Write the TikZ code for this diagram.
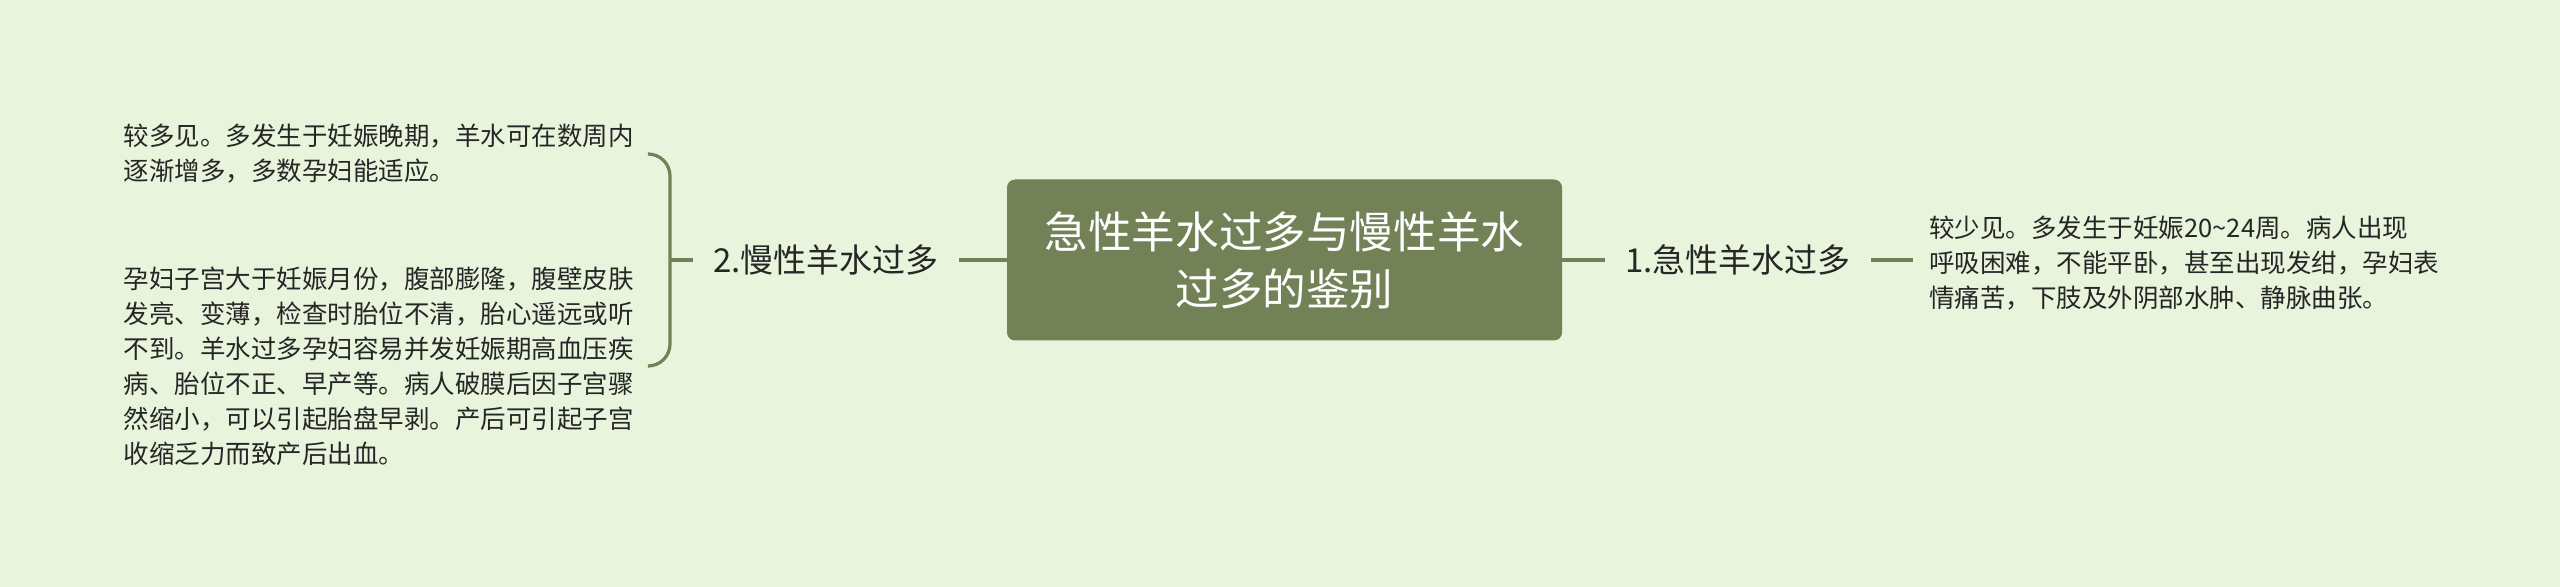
\documentclass[tikz,border=0pt]{standalone}
\usepackage{fontspec}
\setmainfont{Noto Sans CJK SC}
\usepackage{xcolor}
\definecolor{bg}{HTML}{E8F5DC}
\definecolor{olive}{HTML}{738256}
\definecolor{ink}{HTML}{262626}

\tikzset{
  link/.style={draw=olive, line width=1.6pt},
  topic/.style={inner xsep=10pt, font=\fontsize{16.5}{20}\selectfont, text=ink},
  leaf/.style={inner xsep=8pt, align=left, font=\fontsize{12.75}{17.5}\selectfont, text=ink},
}

\begin{document}
\begin{tikzpicture}[x=0.5pt, y=-0.5pt]
  \fill[bg] (0,0) rectangle (2560,587);
  \useasboundingbox (0,0) rectangle (2560,587);
  \node[fill=olive, rounded corners=4pt, minimum width=277.5pt, minimum height=80.5pt, align=center, text=white, font=\fontsize{21.8}{28.5}\selectfont] (m) at (1284.5,260) {急性羊水过多与慢性羊水\\过多的鉴别};
  \node[topic] (a) at (1738,260) {1.急性羊水过多};
  \node[topic] (b) at (826,260) {2.慢性羊水过多};
  \node[leaf, anchor=west] (ra) at (1913,263) {较少见。多发生于妊娠20\textasciitilde24周。病人出现\\呼吸困难，不能平卧，甚至出现发绀，孕妇表\\情痛苦，下肢及外阴部水肿、静脉曲张。};
  \node[leaf, anchor=east] (lb1) at (650,154) {较多见。多发生于妊娠晚期，羊水可在数周内\\逐渐增多，多数孕妇能适应。};
  \node[leaf, anchor=east] (lb2) at (650,366) {孕妇子宫大于妊娠月份，腹部膨隆，腹壁皮肤\\发亮、变薄，检查时胎位不清，胎心遥远或听\\不到。羊水过多孕妇容易并发妊娠期高血压疾\\病、胎位不正、早产等。病人破膜后因子宫骤\\然缩小，可以引起胎盘早剥。产后可引起子宫\\收缩乏力而致产后出血。};
  \coordinate (fork) at (670,260);
  \draw[link] (m.east) -- (a.west);
  \draw[link] (a.east) -- (ra.west |- a.east);
  \draw[link] (m.west) -- (b.east);
  \draw[link] (b.west) -- (fork);
  \draw[link, rounded corners=11pt] (lb1.east) -| (fork) |- (lb2.east);
\end{tikzpicture}
\end{document}
